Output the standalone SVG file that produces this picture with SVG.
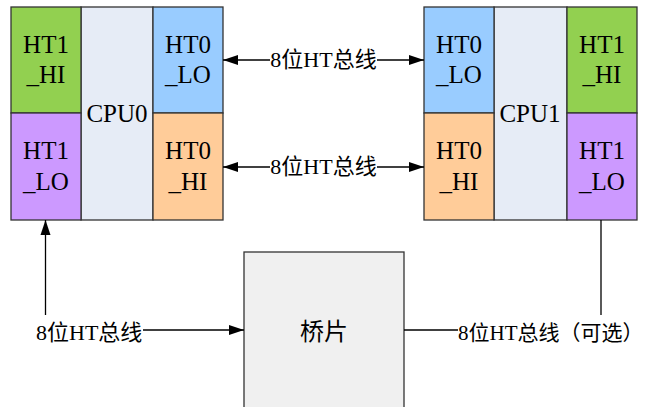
<svg xmlns="http://www.w3.org/2000/svg" width="646" height="407" viewBox="0 0 646 407">
<style>
.cell{stroke:#333;stroke-width:1.3}
.green{fill:#92D050}.blue{fill:#99CCFF}.orange{fill:#FFCC99}.purple{fill:#CC99FF}.cpu{fill:#E6ECF6}.bridge{fill:#F0F0F0}
text{font-family:'Liberation Serif','Noto Sans CJK SC',serif;fill:#000}
.t{font-size:25px;text-anchor:middle}
.b{font-size:22px}
.line{stroke:#000;stroke-width:1.3;fill:none}
</style>
<defs>
<marker id="arr" markerUnits="userSpaceOnUse" markerWidth="16" markerHeight="12" refX="15" refY="6" orient="auto-start-reverse">
<path d="M0,1 L15,6 L0,11 Z" fill="#000"/>
</marker>
</defs>
<rect x="0" y="0" width="646" height="407" fill="#fff"/>
<g id="cpu0">
<rect class="cell cpu" x="81" y="7" width="72" height="213"/>
<text class="t" x="117" y="122">CPU0</text>
</g>
<g id="cpu0-ht1-hi">
<rect class="cell green" x="11" y="7" width="70" height="106"/>
<text class="t" x="46" y="53">HT1</text><text class="t" x="46" y="83">_HI</text>
</g>
<g id="cpu0-ht1-lo">
<rect class="cell purple" x="11" y="113" width="70" height="107"/>
<text class="t" x="46" y="159">HT1</text><text class="t" x="46" y="190">_LO</text>
</g>
<g id="cpu0-ht0-lo">
<rect class="cell blue" x="153" y="7" width="70" height="106"/>
<text class="t" x="188" y="53">HT0</text><text class="t" x="188" y="83">_LO</text>
</g>
<g id="cpu0-ht0-hi">
<rect class="cell orange" x="153" y="113" width="70" height="107"/>
<text class="t" x="188" y="159">HT0</text><text class="t" x="188" y="190">_HI</text>
</g>
<g id="cpu1">
<rect class="cell cpu" x="494" y="7" width="73" height="213"/>
<text class="t" x="530" y="122">CPU1</text>
</g>
<g id="cpu1-ht0-lo">
<rect class="cell blue" x="424" y="7" width="70" height="106"/>
<text class="t" x="459" y="53">HT0</text><text class="t" x="459" y="83">_LO</text>
</g>
<g id="cpu1-ht0-hi">
<rect class="cell orange" x="424" y="113" width="70" height="107"/>
<text class="t" x="459" y="159">HT0</text><text class="t" x="459" y="190">_HI</text>
</g>
<g id="cpu1-ht1-hi">
<rect class="cell green" x="567" y="7" width="70" height="106"/>
<text class="t" x="602" y="53">HT1</text><text class="t" x="602" y="83">_HI</text>
</g>
<g id="cpu1-ht1-lo">
<rect class="cell purple" x="567" y="113" width="70" height="107"/>
<text class="t" x="602" y="159">HT1</text><text class="t" x="602" y="190">_LO</text>
</g>
<g id="bridge">
<rect class="cell bridge" x="244" y="252" width="160" height="170"/>
<text class="t" x="324" y="340" style="font-size:24px">桥片</text>
</g>
<g id="connectors">
<line class="line" x1="223" y1="60" x2="270" y2="60" marker-start="url(#arr)"/>
<line class="line" x1="377" y1="60" x2="424" y2="60" marker-end="url(#arr)"/>
<text class="b" x="323.5" y="67" text-anchor="middle">8位HT总线</text>
<line class="line" x1="223" y1="167" x2="270" y2="167" marker-start="url(#arr)"/>
<line class="line" x1="377" y1="167" x2="424" y2="167" marker-end="url(#arr)"/>
<text class="b" x="323.5" y="174" text-anchor="middle">8位HT总线</text>
<line class="line" x1="45.5" y1="315" x2="45.5" y2="220" marker-end="url(#arr)"/>
<text class="b" x="36" y="340">8位HT总线</text>
<line class="line" x1="143" y1="330" x2="244" y2="330" marker-end="url(#arr)"/>
<line class="line" x1="404" y1="330" x2="458" y2="330"/>
<text class="b" x="458" y="340" style="font-size:21px">8位HT总线（可选）</text>
<line class="line" x1="601" y1="220" x2="601" y2="315"/>
</g>
</svg>
